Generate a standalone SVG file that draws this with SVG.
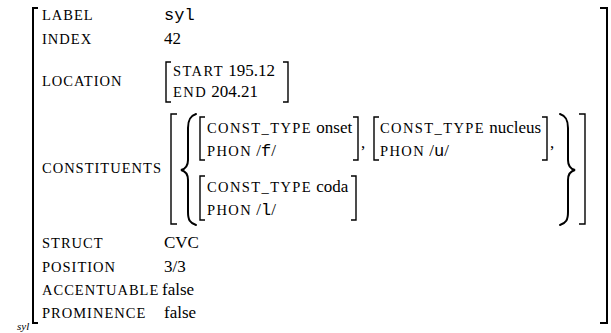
<svg xmlns="http://www.w3.org/2000/svg" width="611" height="333" viewBox="0 0 611 333">
  <style>
    text { font-family: "Liberation Serif", "Times New Roman", serif; fill: #000; }
    .feat { font-size: 14.5px; letter-spacing: 1px; }
    .sc { font-size: 14.5px; letter-spacing: 1.4px; }
    .val { font-size: 17px; letter-spacing: 0; }
    .mono { font-family: "Liberation Mono", "Courier New", monospace; font-size: 17px; letter-spacing: 0; }
    .brk { fill: none; stroke: #000; stroke-width: 1.4; }
    .outer { fill: none; stroke: #000; stroke-width: 2; }
    .brace { fill: none; stroke: #000; stroke-width: 2; stroke-linecap: round; }
    .tag { font-size: 11px; font-style: italic; }
  </style>

  <rect width="611" height="333" fill="#fff"/>

  <!-- outer attribute-value matrix -->
  <g id="avm-syl">
    <polyline class="outer" points="38,8 33,8 33,323 38,323"/>
    <polyline class="outer" points="600,8 607,8 607,323 600,323"/>
    <text class="tag" x="17" y="330">syl</text>
  </g>

  <g id="label">
    <text class="feat" x="42" y="20">LABEL</text>
    <text class="mono" x="164" y="20">syl</text>
  </g>

  <g id="index">
    <text class="feat" x="42" y="44">INDEX</text>
    <text class="val" x="164" y="44">42</text>
  </g>

  <g id="location">
    <text class="feat" x="42" y="86">LOCATION</text>
    <polyline class="brk" points="171,62 166,62 166,102 171,102"/>
    <polyline class="brk" points="283,62 288,62 288,102 283,102"/>
    <text x="173" y="76"><tspan class="sc">START</tspan><tspan class="val"> 195.12</tspan></text>
    <text x="173" y="97"><tspan class="sc">END</tspan><tspan class="val"> 204.21</tspan></text>
  </g>

  <g id="constituents">
    <text class="feat" x="42" y="173">CONSTITUENTS</text>
    <polyline class="brk" points="177,114 171,114 171,224 177,224"/>
    <polyline class="brk" points="579,114 585,114 585,224 579,224"/>
    <!-- set braces -->
    <path class="brace" d="M196,114 C190,116 188,120 188,128 L188,160 C188,166 185,169 181,170 C185,171 188,174 188,180 L188,212 C188,220 190,223 196,225"/>
    <path class="brace" d="M560,114 C566,116 568,120 568,128 L568,160 C568,166 571,169 575,170 C571,171 568,174 568,180 L568,212 C568,220 566,223 560,225"/>
  </g>

  <g id="onset">
    <polyline class="brk" points="205,117 200,117 200,160 205,160"/>
    <polyline class="brk" points="353,117 358,117 358,160 353,160"/>
    <text x="207" y="133"><tspan class="sc">CONST_TYPE</tspan><tspan class="val"> onset</tspan></text>
    <text x="207" y="156"><tspan class="sc">PHON</tspan><tspan class="val"> /</tspan><tspan class="mono">f</tspan><tspan class="val">/</tspan></text>
    <text class="val" x="361" y="148">,</text>
  </g>

  <g id="nucleus">
    <polyline class="brk" points="379,117 374,117 374,160 379,160"/>
    <polyline class="brk" points="542,117 547,117 547,160 542,160"/>
    <text x="380" y="133"><tspan class="sc">CONST_TYPE</tspan><tspan class="val"> nucleus</tspan></text>
    <text x="380" y="156"><tspan class="sc">PHON</tspan><tspan class="val"> /</tspan><tspan class="mono">u</tspan><tspan class="val">/</tspan></text>
    <text class="val" x="550" y="148">,</text>
  </g>

  <g id="coda">
    <polyline class="brk" points="205,176 200,176 200,220 205,220"/>
    <polyline class="brk" points="351,176 356,176 356,220 351,220"/>
    <text x="207" y="192"><tspan class="sc">CONST_TYPE</tspan><tspan class="val"> coda</tspan></text>
    <text x="207" y="215"><tspan class="sc">PHON</tspan><tspan class="val"> /</tspan><tspan class="mono">l</tspan><tspan class="val">/</tspan></text>
  </g>

  <g id="struct">
    <text class="feat" x="42" y="248">STRUCT</text>
    <text class="val" x="164" y="248">CVC</text>
  </g>

  <g id="position">
    <text class="feat" x="42" y="272">POSITION</text>
    <text class="val" x="164" y="272">3/3</text>
  </g>

  <g id="accentuable">
    <text class="feat" x="42" y="295">ACCENTUABLE</text>
    <text class="val" x="162" y="295">false</text>
  </g>

  <g id="prominence">
    <text class="feat" x="42" y="318">PROMINENCE</text>
    <text class="val" x="164" y="318">false</text>
  </g>
</svg>
